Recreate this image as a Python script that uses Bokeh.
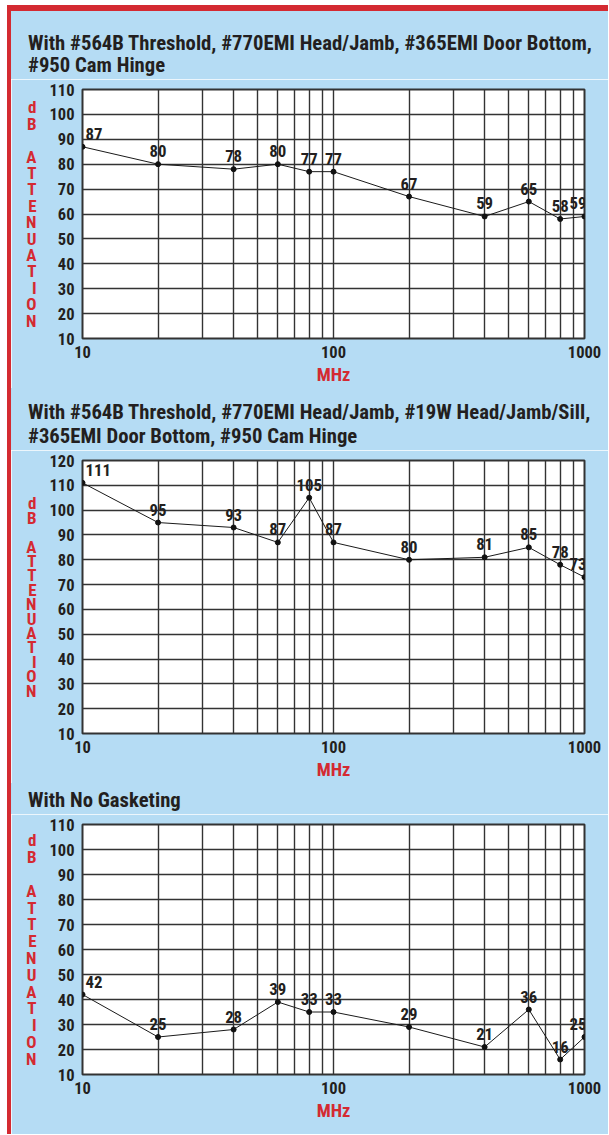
import subprocess
from bokeh.plotting import figure
from bokeh.models import FixedTicker, Div, ColumnDataSource, LabelSet
from bokeh.layouts import column, row
from bokeh.embed import file_html
from bokeh.resources import INLINE
from bokeh.core.properties import field, value

# ---------------- data ----------------
freq_mhz = [10, 20, 40, 60, 80, 100, 200, 400, 600, 800, 1000]

att_1 = [87, 80, 78, 80, 77, 77, 67, 59, 65, 58, 59]
lab_1 = ["87", "80", "78", "80", "77", "77", "67", "59", "65", "58", "59"]

att_2 = [111, 95, 93, 87, 105, 87, 80, 81, 85, 78, 73]
lab_2 = ["111", "95", "93", "87", "105", "87", "80", "81", "85", "78", "73"]

att_3 = [42, 25, 28, 39, 35, 35, 29, 21, 36, 16, 25]
lab_3 = ["42", "25", "28", "39", "33", "33", "29", "21", "36", "16", "25"]

title_1 = ["With #564B Threshold, #770EMI Head/Jamb, #365EMI Door Bottom,",
           "#950 Cam Hinge"]
title_2 = ["With #564B Threshold, #770EMI Head/Jamb, #19W Head/Jamb/Sill,",
           "#365EMI Door Bottom, #950 Cam Hinge"]
title_3 = ["With No Gasketing"]

x_tick_labels = {10: "10", 100: "100", 1000: "1000"}
x_grid_ticks = [10, 20, 30, 40, 50, 60, 70, 80, 90, 100,
                200, 300, 400, 500, 600, 700, 800, 900, 1000]
y_ticks_110 = [10, 20, 30, 40, 50, 60, 70, 80, 90, 100, 110]
y_ticks_120 = [10, 20, 30, 40, 50, 60, 70, 80, 90, 100, 110, 120]

y_label = "d\nB\n\nA\nT\nT\nE\nN\nU\nA\nT\nI\nO\nN"
x_label = "MHz"

# value-label styling per point (first label to the right, last to the left)
label_align = ["left"] + ["center"] * 9 + ["right"]
label_dx = [3] + [0] * 9 + [2]

# ---------------- font choice (narrow face if installed) ----------------
try:
    families = subprocess.run(["fc-list", ":", "family"], capture_output=True,
                              text=True, timeout=20).stdout
except Exception:
    families = ""
CANDIDATES = [("Roboto Condensed", 20.7, 1.0),
              ("Liberation Sans Narrow", 20.7, 1.0),
              ("Arial Narrow", 20.7, 1.0),
              ("DejaVu Sans Condensed", 16.5, 0.88)]
FONT, TSIZE, SC = "DejaVu Sans Condensed", 16.5, 0.88
for fam, ts, sc in CANDIDATES:
    if fam in families:
        FONT, TSIZE, SC = fam, ts, sc
        break


def px(v):
    return "%.1fpx" % (v * SC)


BLUE = "#b5dcf4"
RED = "#d42a31"
INK = "#231f20"
GRID = "#333333"
W = 597


def title_div(lines, height, pad_top, line_h):
    html = ('<div style="padding:%dpx 0 0 17px;font-family:\'%s\',sans-serif;'
            'font-weight:bold;font-size:%.1fpx;line-height:%dpx;color:%s;">%s</div>'
            % (pad_top, FONT, TSIZE, line_h, INK, "<br>".join(lines)))
    return Div(text=html, width=W, height=height, margin=(0, 0, 0, 0),
               styles={"background-color": BLUE})


def make_chart(yvals, labels, ymax, yticks, height, bottom, lh):
    p = figure(width=W, height=height, x_axis_type="log",
               x_range=(10, 1000), y_range=(10, ymax),
               output_backend="svg", toolbar_location=None,
               min_border_left=71, min_border_right=24,
               min_border_top=10, min_border_bottom=bottom)
    p.background_fill_color = "white"
    p.border_fill_color = BLUE
    p.outline_line_color = GRID
    p.outline_line_width = 2

    xa = p.xaxis[0]
    xa.ticker = FixedTicker(ticks=[10, 100, 1000])
    xa.major_label_overrides = x_tick_labels
    xa.major_tick_line_color = None
    xa.minor_tick_line_color = None
    xa.major_tick_out = 0
    xa.major_tick_in = 0
    xa.axis_line_color = None
    xa.major_label_standoff = 7
    xa.major_label_text_font = FONT
    xa.major_label_text_font_size = px(16.5)
    xa.major_label_text_font_style = "bold"
    xa.major_label_text_color = INK
    xa.axis_label = x_label
    xa.axis_label_standoff = 3
    xa.axis_label_text_font = FONT
    xa.axis_label_text_font_size = px(18.5)
    xa.axis_label_text_font_style = "bold"
    xa.axis_label_text_color = RED

    ya = p.yaxis[0]
    ya.ticker = FixedTicker(ticks=yticks)
    ya.major_tick_line_color = None
    ya.minor_tick_line_color = None
    ya.major_tick_out = 0
    ya.major_tick_in = 0
    ya.axis_line_color = None
    ya.major_label_standoff = 8
    ya.major_label_text_font = FONT
    ya.major_label_text_font_size = px(16.5)
    ya.major_label_text_font_style = "bold"
    ya.major_label_text_color = INK
    ya.axis_label = y_label
    ya.axis_label_orientation = "horizontal"
    ya.axis_label_standoff = 10
    ya.axis_label_text_font = FONT
    ya.axis_label_text_font_size = "17px"
    ya.axis_label_text_font_style = "bold"
    ya.axis_label_text_color = RED
    ya.axis_label_text_line_height = lh

    p.xgrid.ticker = FixedTicker(ticks=x_grid_ticks)
    p.xgrid.grid_line_color = GRID
    p.xgrid.grid_line_width = 1.4
    p.ygrid.ticker = FixedTicker(ticks=yticks)
    p.ygrid.grid_line_color = GRID
    p.ygrid.grid_line_width = 1.4

    src = ColumnDataSource(dict(x=freq_mhz, y=yvals, t=labels,
                                a=label_align, dx=label_dx))
    p.line("x", "y", source=src, line_color="#1a1a1a", line_width=1)
    p.scatter("x", "y", source=src, size=5, color="#111111")
    p.add_layout(LabelSet(x="x", y="y", text="t", source=src,
                          text_align=field("a"), text_baseline="alphabetic",
                          x_offset=field("dx"), y_offset=7,
                          text_font=value(FONT), text_font_size=px(16.8),
                          text_font_style="bold", text_color=INK))
    return p


top_bar = Div(width=W, height=6, margin=(5, 0, 0, 0),
              styles={"background-color": RED})
t1 = title_div(title_1, 68, 21, 22)
p1 = make_chart(att_1, lab_1, 110, y_ticks_110, 309, 48, 0.82)
t2 = title_div(title_2, 62, 12, 24)
p2 = make_chart(att_2, lab_2, 120, y_ticks_120, 333, 48, 0.72)
t3 = title_div(title_3, 31, 6, 22)
p3 = make_chart(att_3, lab_3, 110, y_ticks_110, 320, 60, 0.84)

left_bar = Div(width=4, height=1129, margin=(5, 0, 0, 7),
               styles={"background-color": RED})

layout = row(left_bar, column(top_bar, t1, p1, t2, p2, t3, p3, spacing=0),
             spacing=0)

open("out.html", "w").write(file_html(layout, INLINE))
